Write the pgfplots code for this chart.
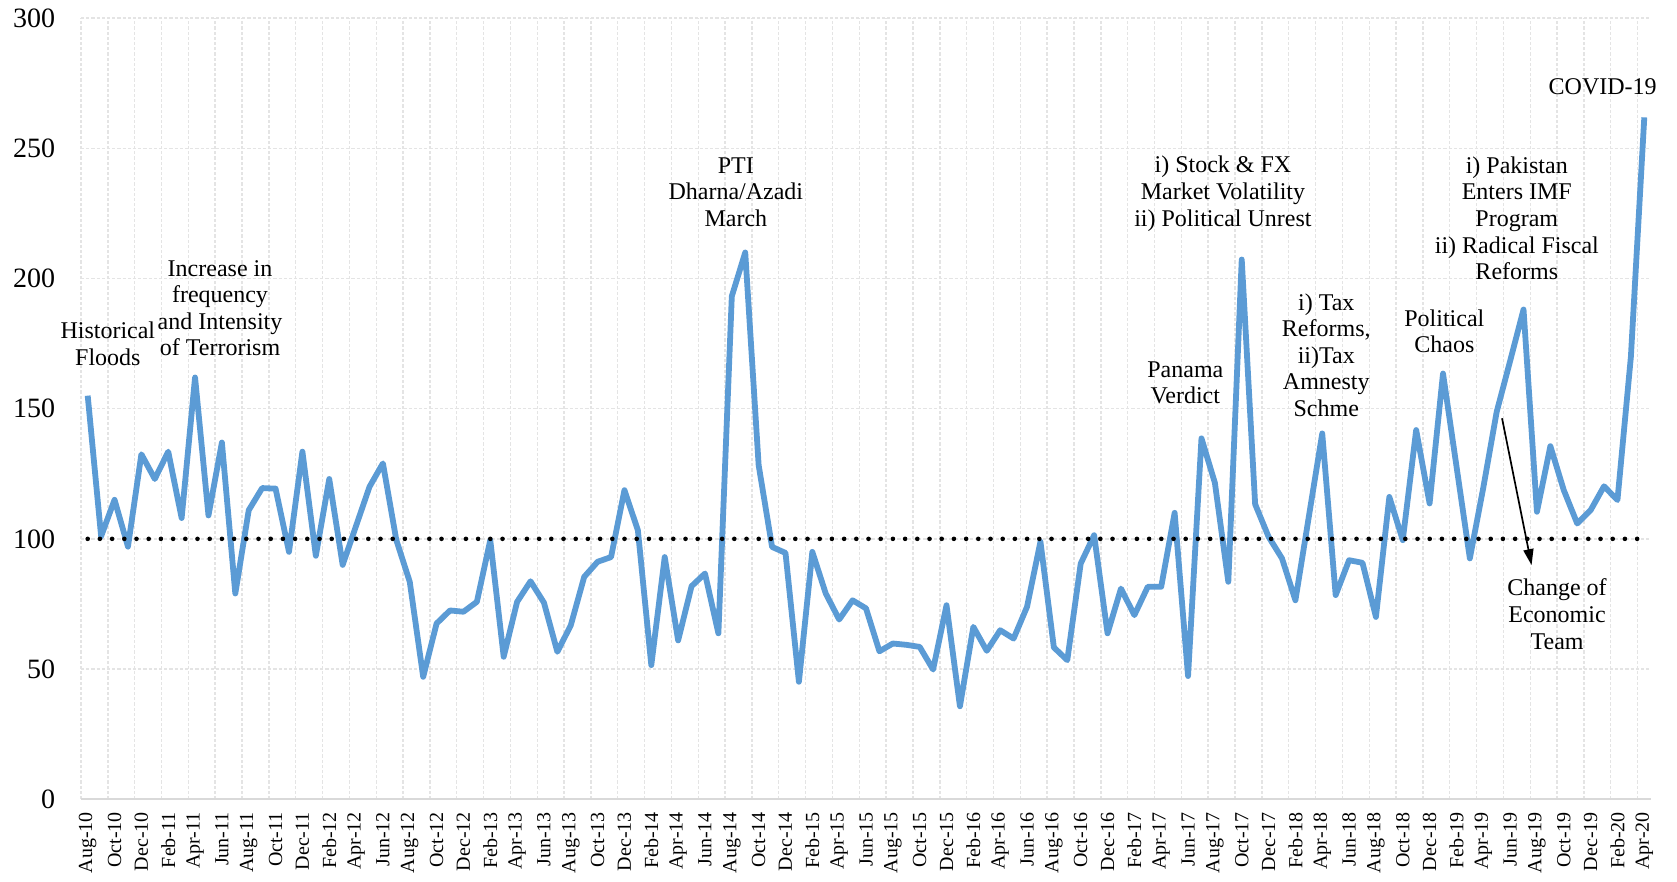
\documentclass[border=0pt]{standalone}
\usepackage{fontspec}
\setmainfont{Liberation Serif}
\usepackage{pgfplots}
\usepackage{pgfplotstable}
\pgfplotsset{compat=1.18}
\usetikzlibrary{calc,arrows.meta}
\definecolor{lineblue}{HTML}{5B9BD5}
\definecolor{gridgray}{HTML}{E4E4E4}
\definecolor{axisgray}{HTML}{D9D9D9}

\pgfplotstableread{
x y
0 155
1 101
2 115
3 97
4 132.5
5 123
6 133.5
7 108
8 162
9 109
10 137
11 79
12 111
13 119.5
14 119.3
15 95
16 133.5
17 93.5
18 123
19 90
20 105
21 120
22 129
23 99.5
24 83.5
25 47
26 67.5
27 72.5
28 72
29 75.8
30 99.5
31 54.7
32 75.8
33 83.7
34 75.5
35 56.6
36 66.8
37 85.4
38 91.2
39 93
40 118.7
41 103.3
42 51.5
43 93
44 61
45 81.8
46 86.7
47 63.7
48 193.2
49 210
50 128.3
51 96.9
52 94.6
53 45.1
54 95
55 79
56 69
57 76.4
58 73.3
59 56.8
60 59.8
61 59.3
62 58.5
63 49.8
64 74.5
65 35.7
66 66.2
67 57
68 64.9
69 61.7
70 73.9
71 98.9
72 58.3
73 53.4
74 90.5
75 101.4
76 63.7
77 80.9
78 70.7
79 81.6
80 81.6
81 110
82 47.3
83 138.6
84 121.5
85 83.5
86 207.3
87 113.3
88 100.8
89 92.5
90 76.4
91 108.5
92 140.5
93 78.4
94 91.8
95 90.8
96 70
97 116.1
98 99.5
99 141.8
100 113.6
101 163.5
102 128
103 92.5
104 119.6
105 148.8
106 168.3
107 188.1
108 110.4
109 135.6
110 118.7
111 105.9
112 111
113 120.2
114 114.9
115 169.9
116 261.9
}\datatable

\newcommand{\annfont}{\fontsize{12}{13.3}\selectfont}

\begin{document}
\begin{tikzpicture}
\begin{axis}[
  scale only axis,
  width=785pt, height=390.5pt,
  xmin=-0.5, xmax=116.5, ymin=0, ymax=300,
  clip=false,
  xtick={0,2,...,116},
  xticklabels={Aug-10,Oct-10,Dec-10,Feb-11,Apr-11,Jun-11,Aug-11,Oct-11,Dec-11,Feb-12,Apr-12,Jun-12,Aug-12,Oct-12,Dec-12,Feb-13,Apr-13,Jun-13,Aug-13,Oct-13,Dec-13,Feb-14,Apr-14,Jun-14,Aug-14,Oct-14,Dec-14,Feb-15,Apr-15,Jun-15,Aug-15,Oct-15,Dec-15,Feb-16,Apr-16,Jun-16,Aug-16,Oct-16,Dec-16,Feb-17,Apr-17,Jun-17,Aug-17,Oct-17,Dec-17,Feb-18,Apr-18,Jun-18,Aug-18,Oct-18,Dec-18,Feb-19,Apr-19,Jun-19,Aug-19,Oct-19,Dec-19,Feb-20,Apr-20},
  xticklabel style={rotate=90, anchor=east, inner sep=0pt, font=\fontsize{10}{12}\selectfont},
  xticklabel shift=6.3pt,
  minor xtick={-0.5,1.5,...,116.5},
  ytick={0,50,...,300},
  yticklabel style={anchor=east, inner sep=0pt, font=\fontsize{14}{16}\selectfont},
  yticklabel shift=12.7pt,
  /pgf/number format/assume math mode=true,
  xminorgrids=true, xmajorgrids=false, ymajorgrids=true,
  grid style={gridgray, line width=0.7pt, dash pattern=on 1.6pt off 1pt},
  minor grid style={gridgray, line width=0.7pt, dash pattern=on 1.6pt off 1pt},
  tick style={draw=none},
  minor tick length=0pt, major tick length=0pt,
  axis x line*=bottom, axis y line*=left,
  x axis line style={draw=axisgray, line width=0.8pt},
  y axis line style={draw=none},
]
\addplot[lineblue, line width=2.9pt, line join=round, mark=none] table[x=x,y=y] {\datatable};
\addplot[black, line width=2.3pt, line cap=round, dash pattern=on 0pt off 6.1pt, mark=none] coordinates {(0,100) (116,100)};

\node[align=center, font=\annfont] at (axis cs:1.5,175) {Historical\\Floods};
\node[align=center, font=\annfont] at (axis cs:9.86,188.6) {Increase in\\frequency\\and Intensity\\of Terrorism};
\node[align=center, font=\annfont] at (axis cs:48.3,233.2) {PTI\\Dharna/Azadi\\March};
\node[align=center, font=\annfont] at (axis cs:84.6,232.6) {i) Stock \& FX\\Market Volatility\\ii) Political Unrest};
\node[align=center, font=\annfont] at (axis cs:81.8,160) {Panama\\Verdict};
\node[align=center, font=\annfont] at (axis cs:92.3,170.6) {i) Tax\\Reforms,\\ii)Tax\\Amnesty\\Schme};
\node[align=center, font=\annfont] at (axis cs:101.1,179.8) {Political\\Chaos};
\node[align=center, font=\annfont] at (axis cs:106.5,223.1) {i) Pakistan\\Enters IMF\\Program\\ii) Radical Fiscal\\Reforms};
\node[align=center, font=\annfont] at (axis cs:112.9,273.5) {COVID-19};
\node[align=center, font=\annfont] at (axis cs:109.5,71.1) {Change of\\Economic\\Team};
\draw[black, line width=0.85pt, -{Triangle[length=8pt, width=5pt]}] (axis cs:105.4,146.3) -- (axis cs:107.6,89.9);

\coordinate (bl) at (rel axis cs:0,0);
\coordinate (tr) at (rel axis cs:1,1);
\end{axis}
\pgfresetboundingbox
\path ($(bl)+(-40.5pt,-41pt)$) rectangle ($(tr)+(13pt,9.1pt)$);
\end{tikzpicture}
\end{document}
